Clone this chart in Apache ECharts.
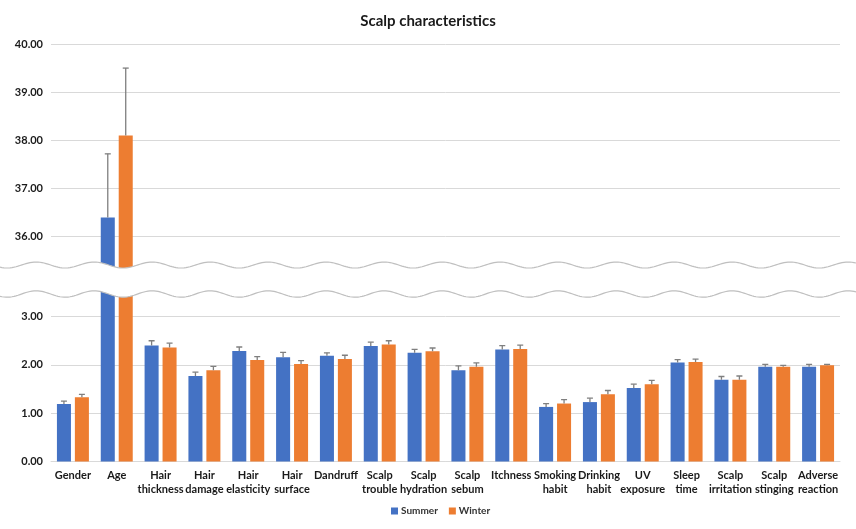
<!DOCTYPE html>
<html>
<head>
<meta charset="utf-8">
<script src="https://cdn.jsdelivr.net/npm/echarts@6/dist/echarts.min.js"></script>
<style>html,body{margin:0;padding:0;background:#fff}#c{width:856px;height:529px}</style>
</head>
<body>
<div id="c"></div>
<script>
const categories = ['Gender','Age','Hair\nthickness','Hair\ndamage','Hair\nelasticity','Hair\nsurface','Dandruff','Scalp\ntrouble','Scalp\nhydration','Scalp\nsebum','Itchness','Smoking\nhabit','Drinking\nhabit','UV\nexposure','Sleep\ntime','Scalp\nirritation','Scalp\nstinging','Adverse\nreaction'];
const summer = [1.19, 36.40, 2.40, 1.77, 2.29, 2.16, 2.19, 2.39, 2.25, 1.89, 2.32, 1.13, 1.23, 1.52, 2.05, 1.69, 1.96, 1.96];
const winter = [1.33, 38.10, 2.36, 1.89, 2.10, 2.02, 2.12, 2.42, 2.28, 1.96, 2.33, 1.20, 1.39, 1.60, 2.06, 1.69, 1.96, 1.99];
const summerErr = [0.06, 1.32, 0.10, 0.08, 0.08, 0.10, 0.06, 0.08, 0.07, 0.09, 0.08, 0.07, 0.08, 0.08, 0.06, 0.07, 0.05, 0.05];
const winterErr = [0.06, 1.40, 0.09, 0.08, 0.07, 0.07, 0.08, 0.08, 0.07, 0.08, 0.08, 0.08, 0.08, 0.08, 0.06, 0.08, 0.03, 0.02];
const topTicks = [36, 37, 38, 39, 40];
const bottomTicks = [0, 1, 2, 3];

const TOP_MIN = 35, TOP_MAX = 40, BOT_MIN = 0, BOT_MAX = 3.6;
const BLUE = '#4472C4', ORANGE = '#ED7D31';
const FONT = 'Lato';

const chart = echarts.init(document.getElementById('c'), null, {renderer: 'canvas'});

function topData(arr){ return arr.map(v => v >= TOP_MIN ? v : '-'); }
function botData(arr){ return arr.map(v => v <= BOT_MAX ? v : BOT_MAX + 1); }

function errSeries(vals, errs, sign, gi, keep){
  const data = [];
  vals.forEach((v, i) => { if (keep(v)) data.push([i, v, errs[i]]); });
  return {
    type: 'custom', name: 'err' + gi + sign, xAxisIndex: gi, yAxisIndex: gi, z: 5, clip: true,
    data: data, silent: true,
    renderItem: function(params, api){
      const x = api.value(0), v = api.value(1), e = api.value(2);
      const p0 = api.coord([x, v]);
      const p1 = api.coord([x, v + e]);
      const bw = api.size([1, 0])[0];
      const cx = p0[0] + sign * bw * 0.2048;
      const st = {stroke: '#7f7f7f', lineWidth: 1.3};
      return {type: 'group', children: [
        {type: 'line', shape: {x1: cx, y1: p0[1], x2: cx, y2: p1[1]}, style: st},
        {type: 'line', shape: {x1: cx - 3, y1: p1[1], x2: cx + 3, y2: p1[1]}, style: st}
      ]};
    }
  };
}

function wave(cy, amp, period, phase){
  const pts = [];
  for (let x = 0; x <= 856; x += 2) pts.push([x, cy + amp * Math.sin((x / period) * 2 * Math.PI + phase)]);
  return pts;
}
const w1 = wave(265, 3, 58, 0.8);
const w2 = wave(294, 3.2, 58, 0.8);

const yLabel = {fontFamily: FONT, fontWeight: 'bold', fontSize: 11, color: '#1a1a1a', margin: 8};

const option = {
  animation: false,
  backgroundColor: '#fff',
  title: {text: 'Scalp characteristics', left: 'center', top: 9,
    textStyle: {fontFamily: FONT, fontWeight: 'bold', fontSize: 15, color: '#1a1a1a'}},
  legend: {data: ['Summer', 'Winter'], bottom: 8, left: 386, icon: 'rect', itemWidth: 7, itemHeight: 7, itemGap: 11,
    textStyle: {fontFamily: FONT, fontWeight: 'bold', fontSize: 10, color: '#333', padding: [0, 0, 0, -2]}},
  grid: [
    {left: 51, right: 16, top: 44, height: 240.9},
    {left: 51, right: 16, top: 287.6, height: 173.9}
  ],
  xAxis: [
    {type: 'category', gridIndex: 0, data: categories, show: false},
    {type: 'category', gridIndex: 1, data: categories,
      axisLine: {lineStyle: {color: '#d9d9d9'}}, axisTick: {show: false},
      axisLabel: {interval: 0, fontFamily: FONT, fontWeight: 'bold', fontSize: 11, color: '#1a1a1a', margin: 7, lineHeight: 14}}
  ],
  yAxis: [
    {type: 'value', gridIndex: 0, min: TOP_MIN, max: TOP_MAX, interval: 1,
      axisLine: {show: false}, axisTick: {show: false},
      splitLine: {lineStyle: {color: '#d9d9d9'}},
      axisLabel: Object.assign({}, yLabel, {formatter: v => topTicks.indexOf(v) >= 0 ? v.toFixed(2) : ''})},
    {type: 'value', gridIndex: 1, min: BOT_MIN, max: BOT_MAX, interval: 1,
      axisLine: {show: false}, axisTick: {show: false},
      splitLine: {lineStyle: {color: '#d9d9d9'}},
      axisLabel: Object.assign({}, yLabel, {showMaxLabel: false, formatter: v => bottomTicks.indexOf(v) >= 0 ? v.toFixed(2) : ''})}
  ],
  series: [
    {type: 'bar', name: 'Summer', xAxisIndex: 0, yAxisIndex: 0, data: topData(summer), itemStyle: {color: BLUE}, barWidth: '32%', barGap: '28%'},
    {type: 'bar', name: 'Winter', xAxisIndex: 0, yAxisIndex: 0, data: topData(winter), itemStyle: {color: ORANGE}, barWidth: '32%', barGap: '28%'},
    {type: 'bar', name: 'Summer', xAxisIndex: 1, yAxisIndex: 1, data: botData(summer), itemStyle: {color: BLUE}, barWidth: '32%', barGap: '28%'},
    {type: 'bar', name: 'Winter', xAxisIndex: 1, yAxisIndex: 1, data: botData(winter), itemStyle: {color: ORANGE}, barWidth: '32%', barGap: '28%'},
    errSeries(summer, summerErr, -1, 0, v => v >= TOP_MIN),
    errSeries(winter, winterErr, 1, 0, v => v >= TOP_MIN),
    errSeries(summer, summerErr, -1, 1, v => v <= BOT_MAX),
    errSeries(winter, winterErr, 1, 1, v => v <= BOT_MAX)
  ],
  graphic: [
    {type: 'polygon', z: 100, silent: true, shape: {points: w1.concat(w2.slice().reverse())}, style: {fill: '#fff', stroke: null}},
    {type: 'polyline', z: 101, silent: true, shape: {points: w1, smooth: 0}, style: {stroke: '#bfbfbf', lineWidth: 1.2, fill: null}},
    {type: 'polyline', z: 101, silent: true, shape: {points: w2, smooth: 0}, style: {stroke: '#bfbfbf', lineWidth: 1.2, fill: null}}
  ]
};
chart.setOption(option);
</script>
</body>
</html>
